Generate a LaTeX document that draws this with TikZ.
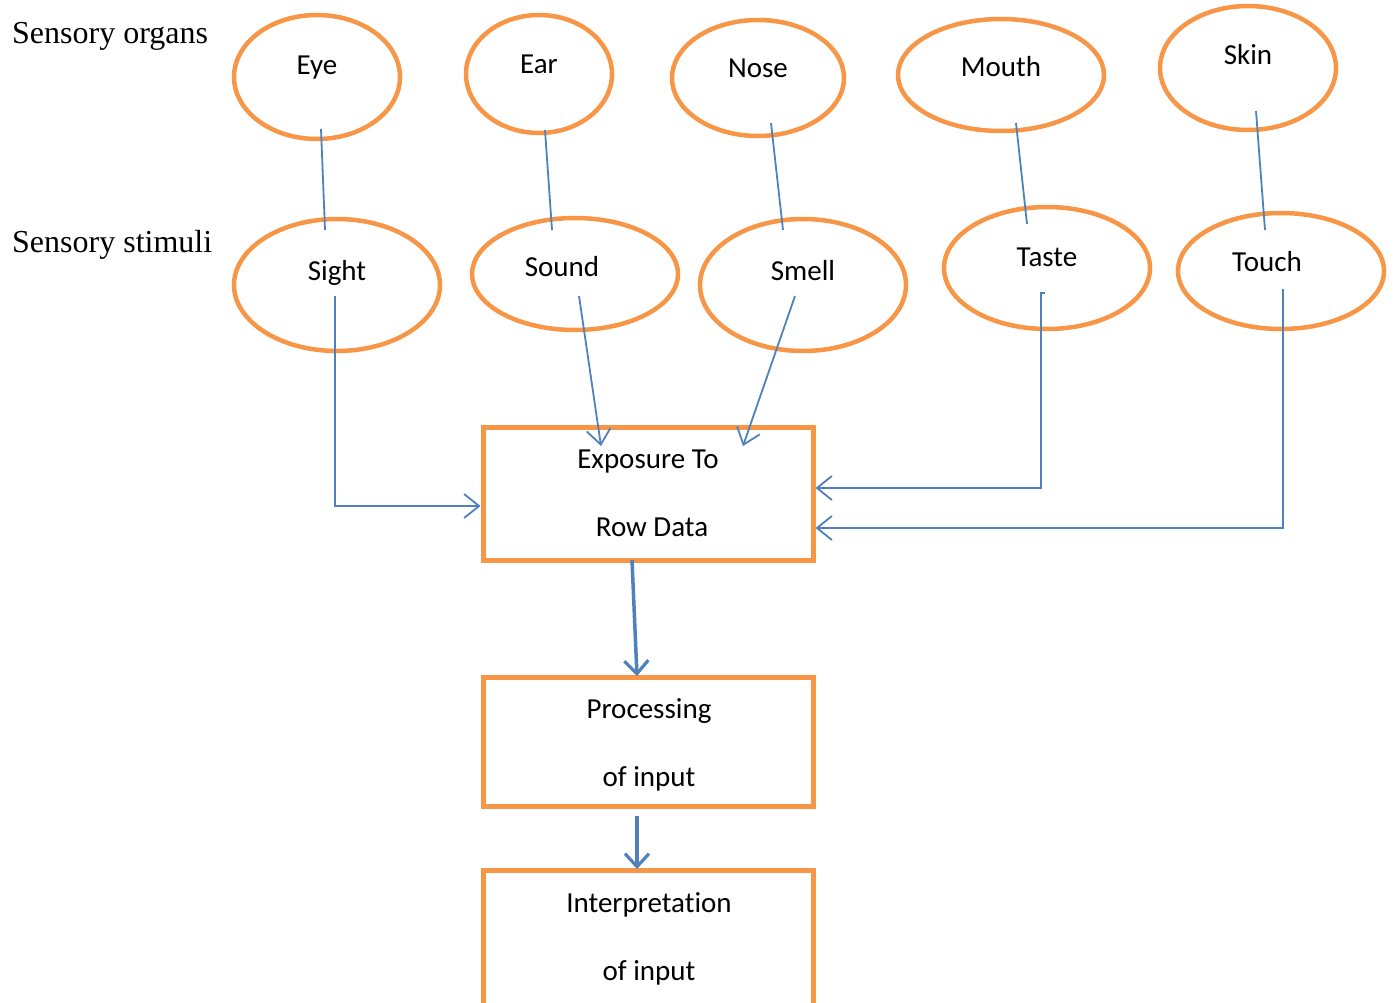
\documentclass[tikz,border=0pt]{standalone}
\usepackage{fontspec}
\setmainfont[Ligatures=NoCommon]{Carlito}
\newfontfamily\serifT{Liberation Serif}
\usetikzlibrary{shapes.geometric,arrows.meta}
\definecolor{org}{HTML}{F79646}
\definecolor{blu}{HTML}{4F81BD}
\begin{document}
\begin{tikzpicture}[x=1pt,y=-1pt,
  ell/.style={ellipse, draw=org, line width=4.5pt, inner sep=0pt},
  bx/.style={rectangle, draw=org, line width=5pt, inner sep=0pt, minimum width=330pt},
  txt/.style={font=\fontsize{29}{32}\selectfont, inner sep=0pt, anchor=base},
  lab/.style={font=\serifT\fontsize{32}{36}\selectfont, inner sep=0pt, anchor=base west},
  conn/.style={draw=blu, line width=1.8pt},
  arr/.style={conn, -{Straight Barb[length=15pt,width=24pt,line width=1.8pt]}},
  bigarr/.style={draw=blu, line width=3.5pt, -{Straight Barb[length=13pt,width=24pt,line width=3.2pt]}}
]
\useasboundingbox (0,0) rectangle (1394,1003);

% side labels
\node[lab] (l1) at (12,44) {Sensory organs};
\node[lab] (l2) at (12,252) {Sensory stimuli};

% organs
\node[ell, minimum width=166pt, minimum height=124pt] (eye) at (317,77) {};
\node[ell, minimum width=146pt, minimum height=118pt] (ear) at (539,74) {};
\node[ell, minimum width=172pt, minimum height=116pt] (nose) at (758,78) {};
\node[ell, minimum width=206pt, minimum height=112pt] (mouth) at (1001,75) {};
\node[ell, minimum width=176pt, minimum height=124pt] (skin) at (1248,68) {};
\node[txt] (teye) at (317,75) {Eye};
\node[txt] (tear) at (539,74) {Ear};
\node[txt] (tnose) at (758,78) {Nose};
\node[txt] (tmouth) at (1001,77) {Mouth};
\node[txt] (tskin) at (1248,65) {Skin};

% stimuli
\node[ell, minimum width=206pt, minimum height=132pt] (sight) at (337,285) {};
\node[ell, minimum width=206pt, minimum height=112pt] (sound) at (575,274) {};
\node[ell, minimum width=206pt, minimum height=132pt] (smell) at (803,285) {};
\node[ell, minimum width=206pt, minimum height=122pt] (taste) at (1047,268) {};
\node[ell, minimum width=206pt, minimum height=116pt] (touch) at (1281,271) {};
\node[txt] (tsight) at (337,280) {Sight};
\node[txt] (tsound) at (562,276) {Sound};
\node[txt] (tsmell) at (803,280) {Smell};
\node[txt] (ttaste) at (1047,266) {Taste};
\node[txt] (ttouch) at (1267,271) {Touch};

% boxes
\node[bx, minimum height=133pt] (expo) at (648,493.5) {};
\node[bx, minimum height=129pt] (proc) at (648,741.5) {};
\node[bx, minimum height=140pt] (interp) at (648,940) {};
\node[txt] (t1) at (648,468) {Exposure To};
\node[txt] (t2) at (652,536) {Row Data};
\node[txt] (t3) at (649,718) {Processing};
\node[txt] (t4) at (649,786) {of input};
\node[txt] (t5) at (649,912) {Interpretation};
\node[txt] (t6) at (649,980) {of input};

% organ to stimulus connectors
\coordinate (a1) at (321,129); \coordinate (b1) at (325,230);
\coordinate (a2) at (545,130); \coordinate (b2) at (552,230);
\coordinate (a3) at (771,123); \coordinate (b3) at (783,230);
\coordinate (a4) at (1016,123); \coordinate (b4) at (1027,224);
\coordinate (a5) at (1256,111); \coordinate (b5) at (1265,230);
\draw[conn] (a1) -- (b1);
\draw[conn] (a2) -- (b2);
\draw[conn] (a3) -- (b3);
\draw[conn] (a4) -- (b4);
\draw[conn] (a5) -- (b5);

% stimulus to exposure
\coordinate (s1) at (335,296);
\coordinate (s2) at (579,296); \coordinate (e2) at (601,446);
\coordinate (s3) at (795,296); \coordinate (e3) at (743,446);
\coordinate (s4h) at (1045,293); \coordinate (s4) at (1041,293);
\coordinate (s5) at (1283,289);
\draw[arr] (s1) |- ([yshift=-12.5pt]expo.west);
\draw[arr] (s2) -- (e2);
\draw[arr] (s3) -- (e3);
\draw[arr] (s4h) -- (s4) |- ([yshift=5.5pt]expo.east);
\draw[arr] (s5) |- ([yshift=-34.5pt]expo.east);

% flow
\coordinate (f1) at (632,560); \coordinate (f2) at (637,676);
\coordinate (f3) at (637,816); \coordinate (f4) at (637,869);
\draw[bigarr] (f1) -- (f2);
\draw[bigarr] (f3) -- (f4);
\end{tikzpicture}
\end{document}
